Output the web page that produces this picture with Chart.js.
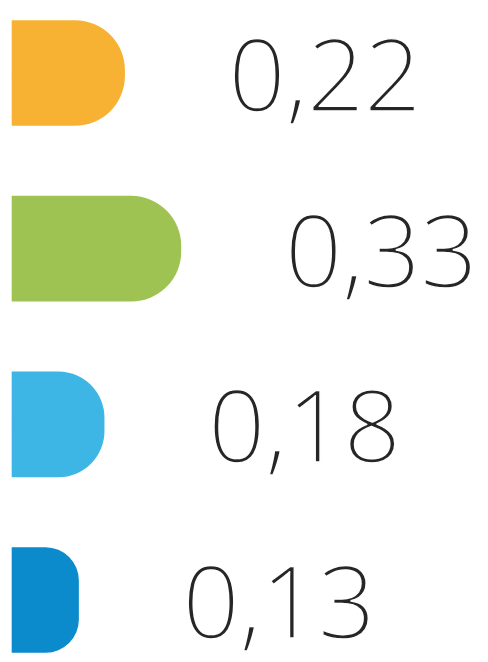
<!DOCTYPE html>
<html>
<head>
<meta charset="utf-8">
<script src="https://cdn.jsdelivr.net/npm/chart.js@4/dist/chart.umd.min.js"></script>
<style>
  html, body { margin: 0; padding: 0; background: #ffffff; }
  #wrap { position: relative; width: 488px; height: 662px; }
</style>
</head>
<body>
<div id="wrap"><canvas id="c"></canvas></div>
<script>
const categories = ['1', '2', '3', '4'];
const values = [0.22, 0.33, 0.18, 0.13];
const barColors = ['#F8B233', '#9EC352', '#3EB6E5', '#0B8BCB'];

const valueLabels = {
  id: 'valueLabels',
  afterDatasetsDraw(chart) {
    const ctx = chart.ctx;
    const meta = chart.getDatasetMeta(0);
    ctx.save();
    ctx.font = '300 100px "Open Sans", "Noto Sans", sans-serif';
    ctx.fillStyle = '#262626';
    ctx.textAlign = 'left';
    ctx.textBaseline = 'alphabetic';
    meta.data.forEach((bar, i) => {
      const txt = values[i].toFixed(2).replace('.', ',');
      const x = bar.x + 104, y = bar.y + 38;
      ctx.fillText(txt, x, y);
      // slightly thin the strokes to imitate a light weight
      ctx.strokeStyle = '#ffffff';
      ctx.lineWidth = 1.4;
      ctx.lineJoin = 'round';
      ctx.strokeText(txt, x, y);
    });
    ctx.restore();
  }
};

new Chart(document.getElementById('c'), {
  type: 'bar',
  data: {
    labels: categories,
    datasets: [{
      data: values,
      backgroundColor: barColors,
      borderWidth: 0,
      borderRadius: 50,
      borderSkipped: 'start',
      barThickness: 105,
      clip: false
    }]
  },
  options: {
    indexAxis: 'y',
    responsive: true,
    maintainAspectRatio: false,
    animation: false,
    layout: { padding: { left: 12, right: 0, top: 73, bottom: 62 } },
    plugins: { legend: { display: false }, tooltip: { enabled: false } },
    scales: {
      x: { display: false, min: 0, max: 0.93 },
      y: { display: false, offset: false }
    }
  },
  plugins: [valueLabels]
});
</script>
</body>
</html>
